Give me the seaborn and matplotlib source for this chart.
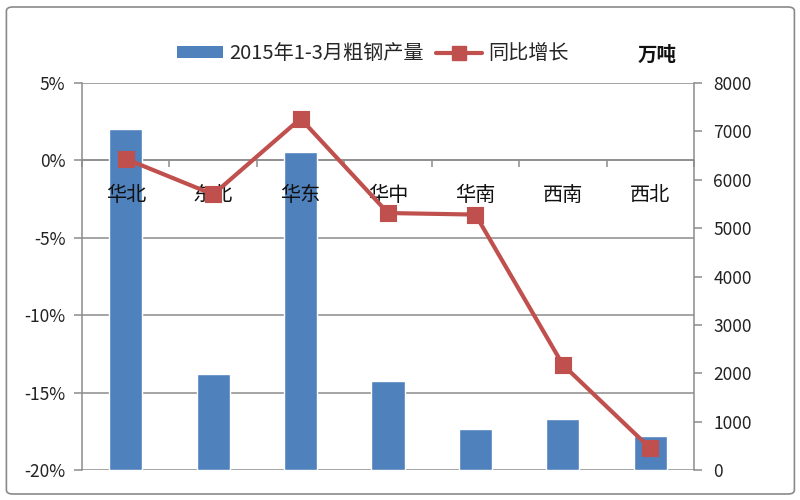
import numpy as np
import pandas as pd
import matplotlib
matplotlib.use("Agg")
import matplotlib.pyplot as plt
import matplotlib.ticker as mticker
from matplotlib.patches import Patch, FancyBboxPatch
from matplotlib.lines import Line2D
import seaborn as sns

# data
regions = ["华北", "东北", "华东", "华中", "华南", "西南", "西北"]
output_wt = [7045, 1975, 6580, 1830, 845, 1050, 700]       # 万吨
growth_pct = [0.1, -2.2, 2.7, -3.4, -3.5, -13.2, -18.6]     # %
pct_ticks = [-20, -15, -10, -5, 0, 5]
wt_ticks = [0, 1000, 2000, 3000, 4000, 5000, 6000, 7000, 8000]

bar_label = "2015年1-3月粗钢产量"
line_label = "同比增长"
unit_label = "万吨"

BLUE = "#4F81BD"
RED = "#C0504D"
GRAY = "#8C8C8C"

sns.set_style("white")
plt.rcParams['font.family'] = ['Noto Sans CJK SC', 'DejaVu Sans']

df = pd.DataFrame({"region": regions, "output": output_wt,
                   "growth": np.array(growth_pct) / 100})

fig = plt.figure(figsize=(8, 5), dpi=100)
# outer frame of the chart
fig.patches.append(FancyBboxPatch((0.008, 0.012), 0.985, 0.974,
                                  boxstyle="round,pad=0,rounding_size=0.008",
                                  transform=fig.transFigure, fill=False,
                                  edgecolor="#8A8A8A", linewidth=1.2))

ax = fig.add_axes([0.1025, 0.06, 0.765, 0.774])   # grid + left % axis
ax_bar = ax.twinx()                                 # bars, right axis
ax_line = ax.twinx()                                # line on top

# bars
sns.barplot(data=df, x="region", y="output", ax=ax_bar, color=BLUE,
            saturation=1, width=0.38, errorbar=None)
ax_bar.set_ylim(0, 8000)
ax_bar.set_yticks(wt_ticks)
ax_bar.yaxis.tick_right()
ax_bar.set_xlabel("")
ax_bar.set_ylabel("")

# line
sns.pointplot(data=df, x="region", y="growth", ax=ax_line, color=RED,
              markers="s", linestyles="-", errorbar=None,
              markersize=9.5, linewidth=3)
ax_line.set_xlabel("")
ax_line.set_ylabel("")

for a in (ax, ax_bar, ax_line):
    a.set_xlim(-0.5, len(regions) - 0.5)
for a in (ax, ax_line):
    a.set_ylim(-0.20, 0.05)

# left percent axis with gridlines
ax.set_yticks(np.array(pct_ticks) / 100)
ax.yaxis.set_major_formatter(mticker.FuncFormatter(lambda v, p: f"{v*100:.0f}%"))
ax.grid(axis="y", color=GRAY, linewidth=1.1)
ax.grid(axis="x", visible=False)
ax.spines["bottom"].set_position(("data", 0))
for s in ("top", "right"):
    ax.spines[s].set_visible(False)
for s in ("left", "bottom"):
    ax.spines[s].set_color(GRAY)
    ax.spines[s].set_linewidth(1.1)
ax.set_xticks(np.arange(len(regions) + 1) - 0.5, minor=True)
ax.tick_params(axis="x", which="minor", direction="out", length=5,
               color=GRAY, width=1.1, bottom=True)
ax.tick_params(axis="x", which="major", length=0, labelbottom=False)
ax.tick_params(axis="y", which="major", direction="out", length=6,
               color=GRAY, width=1.1, labelsize=12.5, pad=6,
               labelcolor="#222222", left=True)

# right axis spine and ticks
for s in ("top", "left", "bottom"):
    ax_bar.spines[s].set_visible(False)
ax_bar.spines["right"].set_color(GRAY)
ax_bar.spines["right"].set_linewidth(1.1)
ax_bar.tick_params(axis="y", direction="out", length=6, color=GRAY,
                   width=1.1, labelsize=12.5, pad=8, labelcolor="#222222",
                   right=True)

# category labels sitting under the 0% line, drawn on top of everything
ax_line.xaxis.set_visible(True)
ax_line.spines["bottom"].set_position(("data", 0))
for s in ax_line.spines.values():
    s.set_visible(False)
ax_line.set_yticks([])
ax_line.tick_params(axis="x", which="both", length=0, labelsize=14.5,
                    pad=18, labelcolor="#111111", bottom=True,
                    labelbottom=True)
ax_line.set_xticks(np.arange(len(regions)))
ax_line.set_xticklabels(regions)

# legend
handles = [Patch(facecolor=BLUE, edgecolor="none", label=bar_label),
           Line2D([0], [0], color=RED, linewidth=3, marker="s",
                  markersize=9.5, label=line_label)]
fig.legend(handles=handles, loc="center", bbox_to_anchor=(0.466, 0.893),
           ncol=2, frameon=False, fontsize=14.5, handlelength=2.3,
           handleheight=0.5, handletextpad=0.3, columnspacing=0.6)

fig.text(0.822, 0.89, unit_label, ha="center", va="center",
         fontsize=14, fontweight="bold", color="#111111")

fig.savefig("out.png", dpi=100)
